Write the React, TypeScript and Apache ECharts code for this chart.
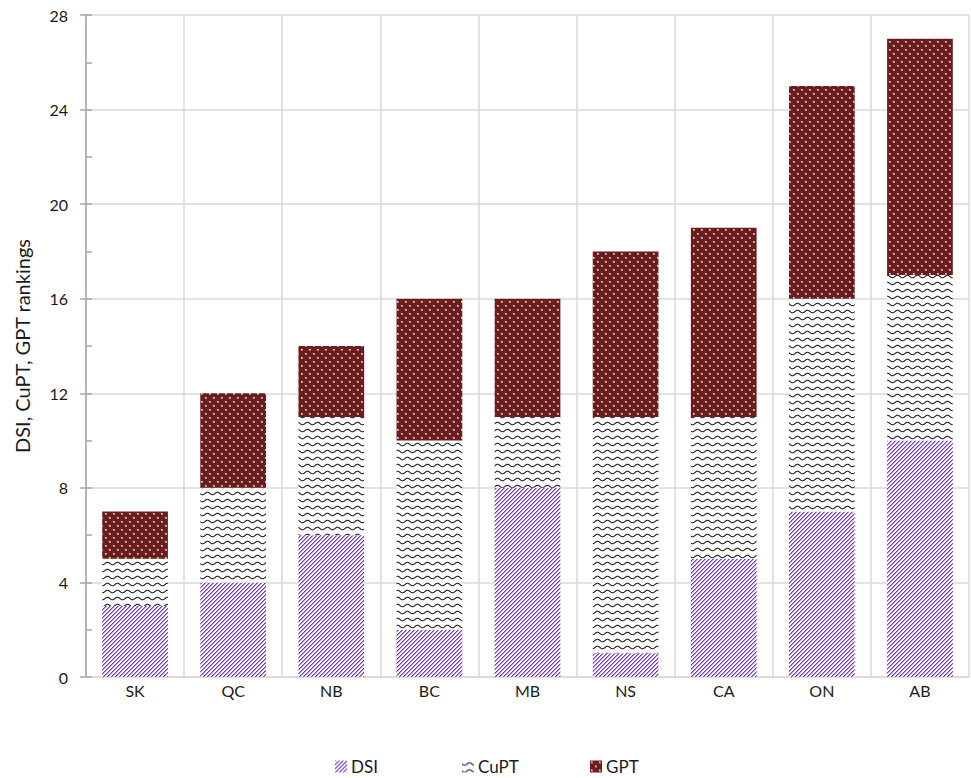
import React, { useEffect, useRef } from "react";
import * as echarts from "echarts";

// Provinces / national, ordered by total ranking
const categories = ["SK", "QC", "NB", "BC", "MB", "NS", "CA", "ON", "AB"];
const dsiValues = [3, 4, 6, 2, 8, 1, 5, 7, 10];
const cuptValues = [2, 4, 5, 8, 3, 10, 6, 9, 7];
const gptValues = [2, 4, 3, 6, 5, 7, 8, 9, 10];
const seriesNames = ["DSI", "CuPT", "GPT"];

const FONT = "Lato, 'Open Sans', sans-serif";

function makeTile(w: number, h: number, draw: (ctx: CanvasRenderingContext2D) => void) {
  const c = document.createElement("canvas");
  c.width = w;
  c.height = h;
  const ctx = c.getContext("2d")!;
  draw(ctx);
  return { image: c, repeat: "repeat", imageWidth: w, imageHeight: h } as any;
}

// Purple forward-slash hatching on white
function hatchPattern() {
  return makeTile(4, 4, (ctx) => {
    ctx.fillStyle = "#ffffff";
    ctx.fillRect(0, 0, 4, 4);
    for (let i = 0; i < 4; i++) {
      ctx.fillStyle = "#7a35cc";
      ctx.fillRect(i, 3 - i, 1, 1);
      ctx.fillStyle = "#b48ae6";
      ctx.fillRect((i + 1) % 4, 3 - i, 1, 1);
    }
  });
}

// Black wavy lines on white
function wavePattern() {
  return makeTile(10, 7, (ctx) => {
    ctx.fillStyle = "#ffffff";
    ctx.fillRect(0, 0, 10, 7);
    ctx.strokeStyle = "#1a1a1a";
    ctx.lineWidth = 1.1;
    ctx.beginPath();
    for (let x = -1; x <= 11; x += 0.5) {
      const y = 3.5 + 1.3 * Math.sin((2 * Math.PI * x) / 10);
      if (x === -1) ctx.moveTo(x, y);
      else ctx.lineTo(x, y);
    }
    ctx.stroke();
  });
}

// Dark red with small light dots in a staggered grid
function dotPattern() {
  return makeTile(8, 8, (ctx) => {
    ctx.fillStyle = "#6b1d1d";
    ctx.fillRect(0, 0, 8, 8);
    const dot = (x: number, y: number) => {
      ctx.fillStyle = "#b88786";
      ctx.fillRect(x, y, 2, 2);
      ctx.fillStyle = "#ffffff";
      ctx.fillRect(x, y, 1, 1);
    };
    dot(1, 1);
    dot(5, 5);
  });
}

export default function App() {
  const ref = useRef<HTMLDivElement>(null);

  useEffect(() => {
    if (!ref.current) return;
    const chart = echarts.init(ref.current, undefined, { renderer: "svg" });
    const fills = [hatchPattern(), wavePattern(), dotPattern()];
    const values = [dsiValues, cuptValues, gptValues];
    const legendLeft = [335, 462, 590];

    chart.setOption({
      animation: false,
      backgroundColor: "#ffffff",
      grid: {
        left: 86,
        right: 2,
        top: 15,
        bottom: 101,
        containLabel: false,
        outerBoundsMode: "none",
      },
      legend: seriesNames.map((name, i) => ({
        left: legendLeft[i],
        top: 758,
        padding: 0,
        itemWidth: 12,
        itemHeight: 12,
        itemGap: 0,
        icon: "rect",
        textStyle: { fontFamily: FONT, fontSize: 17, color: "#1a1a1a", padding: [0, 0, 0, -1] },
        data: [name],
      })),
      xAxis: {
        type: "category",
        data: categories,
        axisLine: { lineStyle: { color: "#d9d9d9", width: 1.5 } },
        axisTick: { show: false },
        axisLabel: { fontFamily: FONT, fontSize: 16, color: "#1a1a1a", margin: 5 },
        splitLine: { show: true, lineStyle: { color: "#d9d9d9", width: 1.5 } },
      },
      yAxis: [
        {
          type: "value",
          min: 0,
          max: 28,
          interval: 4,
          name: "DSI, CuPT, GPT rankings",
          nameLocation: "middle",
          nameGap: 54,
          nameTextStyle: { fontFamily: FONT, fontSize: 20, color: "#1a1a1a" },
          axisLine: { show: true, lineStyle: { color: "#a6a6a6", width: 1.5 } },
          axisTick: { show: true, length: 6, lineStyle: { color: "#a6a6a6", width: 1.5 } },
          axisLabel: { fontFamily: FONT, fontSize: 16, color: "#1a1a1a", margin: 18 },
          splitLine: { show: true, lineStyle: { color: "#d9d9d9", width: 1.5 } },
        },
        {
          type: "value",
          min: 0,
          max: 28,
          interval: 2,
          position: "left",
          axisLine: { show: false },
          axisTick: { show: true, inside: true, length: 6, lineStyle: { color: "#a6a6a6", width: 1.5 } },
          axisLabel: { show: false },
          splitLine: { show: false },
        },
      ],
      series: seriesNames.map((name, i) => ({
        name,
        type: "bar",
        stack: "total",
        barWidth: "67%",
        data: values[i],
        itemStyle: { color: fills[i] },
        emphasis: { disabled: true },
      })),
    });

    return () => chart.dispose();
  }, []);

  return (
    <div
      ref={ref}
      style={{ position: "absolute", left: 0, top: 0, width: 971, height: 778 }}
    />
  );
}
